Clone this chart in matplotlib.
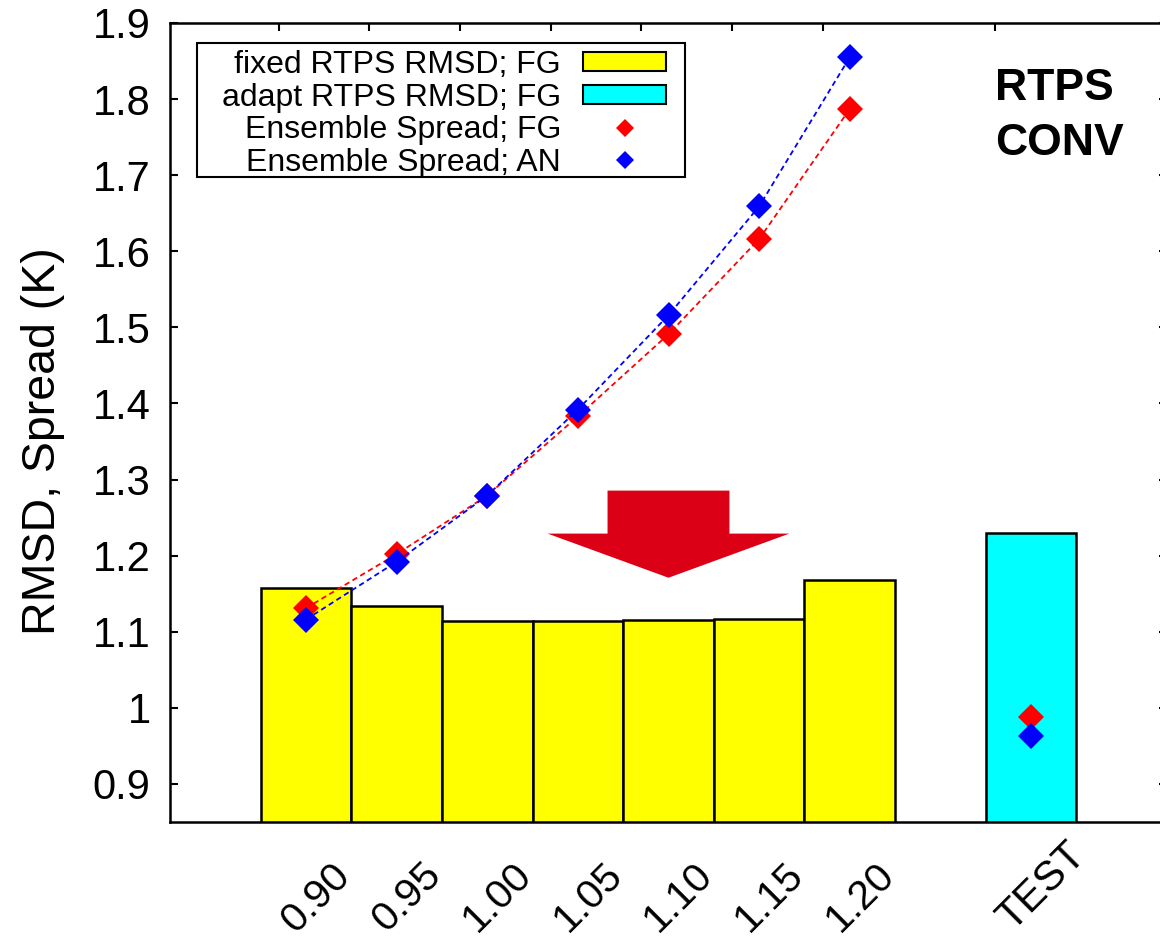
import numpy as np
import matplotlib.pyplot as plt
from matplotlib.patches import Patch, Rectangle
from matplotlib.lines import Line2D
from matplotlib.transforms import IdentityTransform

plt.rcParams['font.family'] = ['Liberation Sans', 'DejaVu Sans']

# RTPS factors (fixed) and the adaptive test run
rtps_labels = ['0.90', '0.95', '1.00', '1.05', '1.10', '1.15', '1.20']
test_label = 'TEST'

fixed_rmsd_fg = [1.157, 1.134, 1.114, 1.114, 1.115, 1.117, 1.168]
adapt_rmsd_fg = 1.230

spread_fg = [1.131, 1.202, 1.279, 1.383, 1.491, 1.616, 1.787]
spread_an = [1.116, 1.192, 1.279, 1.392, 1.516, 1.659, 1.855]
test_spread_fg = 0.988
test_spread_an = 0.963

yticks = [0.9, 1.0, 1.1, 1.2, 1.3, 1.4, 1.5, 1.6, 1.7, 1.8, 1.9]

YELLOW = '#ffff00'
CYAN = '#00ffff'
RED = '#ff0000'
BLUE = '#0000ff'
ARROW_RED = '#dc0016'

fig = plt.figure(figsize=(11.6, 9.38), dpi=100)
ax = fig.add_axes([170 / 1160, 116 / 938, 997 / 1160, 799 / 938])

xs = np.arange(len(rtps_labels))
x_test = len(rtps_labels) + 1

# bars
ax.bar(xs, fixed_rmsd_fg, width=1.0, color=YELLOW, edgecolor='black', linewidth=1.8, zorder=2)
ax.bar([x_test], [adapt_rmsd_fg], width=1.0, color=CYAN, edgecolor='black', linewidth=1.8, zorder=2)

# spread curves
ax.plot(xs, spread_fg, color=RED, lw=1.3, ls=(0, (3, 2)), marker='D', ms=13, mew=0, zorder=3)
ax.plot(xs, spread_an, color=BLUE, lw=1.3, ls=(0, (3, 2)), marker='D', ms=13, mew=0, zorder=4)
ax.plot([x_test], [test_spread_fg], color=RED, marker='D', ms=13, mew=0, ls='none', zorder=3)
ax.plot([x_test], [test_spread_an], color=BLUE, marker='D', ms=13, mew=0, ls='none', zorder=4)

# big red arrow
ax.arrow(4.0, 1.2855, 0, -0.1145, width=1.345, head_width=2.667, head_length=0.058,
         length_includes_head=True, color=ARROW_RED, lw=0, zorder=2)

ax.set_xlim(-1.5, 9.5)
ax.set_ylim(0.85, 1.9)

ax.set_yticks(yticks)
ax.set_yticklabels(['%g' % v for v in yticks])
ax.tick_params(axis='y', which='both', direction='in', left=True, right=True,
               length=6, width=1.5, labelsize=30, pad=14)

# mirrored x tics only on top, labels placed manually
top_ticks = list(xs - 0.3) + [x_test - 0.4]
ax.set_xticks(top_ticks)
ax.set_xticklabels([])
ax.tick_params(axis='x', direction='in', bottom=False, top=True, length=6, width=1.5)

for x, lab in zip(xs, rtps_labels):
    ax.annotate(lab, xy=(x, 0), xycoords=('data', 'axes fraction'), xytext=(46, -55),
                textcoords='offset pixels', rotation=45, ha='right', va='baseline',
                rotation_mode='anchor', fontsize=29.5)
ax.annotate(test_label, xy=(x_test, 0), xycoords=('data', 'axes fraction'), xytext=(56, -35),
            textcoords='offset pixels', rotation=45, ha='right', va='baseline',
            rotation_mode='anchor', fontsize=30)

for s in ax.spines.values():
    s.set_linewidth(1.8)

ax.set_ylabel('RMSD, Spread (K)', fontsize=33.5)
ax.yaxis.set_label_coords(-0.105, 0.477)

ax.text(0.8275, 0.9036, 'RTPS', transform=ax.transAxes, fontsize=32, fontweight='bold',
        ha='left', va='baseline')
ax.text(0.8275, 0.8348, 'CONV', transform=ax.transAxes, fontsize=32, fontweight='bold',
        ha='left', va='baseline')

handles = [
    Patch(facecolor=YELLOW, edgecolor='black', linewidth=1.5),
    Patch(facecolor=CYAN, edgecolor='black', linewidth=1.5),
    Line2D([], [], color=RED, marker='D', ms=9.5, mew=0, ls='none'),
    Line2D([], [], color=BLUE, marker='D', ms=9.5, mew=0, ls='none'),
]
labels = ['fixed RTPS RMSD; FG', 'adapt RTPS RMSD; FG', 'Ensemble Spread; FG', 'Ensemble Spread; AN']
leg = ax.legend(handles, labels, loc='upper left', bbox_to_anchor=(0.052, 0.966),
                borderaxespad=0, markerfirst=False, frameon=False,
                fontsize=23, handlelength=2.6, handleheight=0.53, handletextpad=0.69,
                labelspacing=0.08, borderpad=0.0)
leg.set_zorder(5)

# gnuplot-like key box: wider side padding than a matplotlib legend frame
fig.canvas.draw()
bb = leg.get_window_extent()
box = Rectangle((bb.x0 - 25, bb.y0 + 1), bb.width + 44, bb.height + 6,
                transform=IdentityTransform(), facecolor='white', edgecolor='black',
                linewidth=1.5, zorder=4.5, clip_on=False)
ax.add_artist(box)

fig.savefig('out.png', dpi=100)
